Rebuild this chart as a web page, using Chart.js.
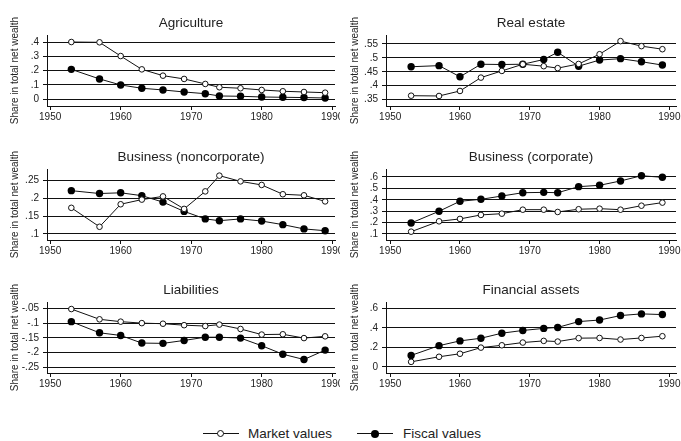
<!DOCTYPE html>
<html>
<head>
<meta charset="utf-8">
<script src="https://cdn.jsdelivr.net/npm/chart.js@4"></script>
<style>
  body { margin: 0; background: #fff; width: 681px; height: 441px; position: relative; overflow: hidden;
         font-family: 'Liberation Sans', Arial, sans-serif; color: #222; }
  .panel { position: absolute; overflow: hidden; }
  .key { position: absolute; top: 426px; height: 16px; font-size: 13.5px; line-height: 16px; }
  .key .ln { position: absolute; top: 7px; width: 36px; height: 1px; background: #111; }
  .key .dot { position: absolute; border-radius: 50%; box-sizing: border-box; }
  .key .open { width: 7px; height: 7px; top: 4px; border: 1px solid #111; background: #fff; }
  .key .full { width: 8px; height: 8px; top: 3.5px; background: #000; }
  .key .txt { position: absolute; white-space: nowrap; }
</style>
</head>
<body>
<div class="key" style="left:203px"><span class="ln"></span><span class="dot open" style="left:14px"></span><span class="txt" style="left:45px">Market values</span></div>
<div class="key" style="left:357px"><span class="ln"></span><span class="dot full" style="left:14px"></span><span class="txt" style="left:46px">Fiscal values</span></div>

<script>
// survey years
const years = [1953, 1957, 1960, 1963, 1966, 1969, 1972, 1974, 1977, 1980, 1983, 1986, 1989];
const xTicks = [1950, 1960, 1970, 1980, 1990];

// shares in total net wealth, market vs fiscal valuation
const agriMarket = [0.400, 0.398, 0.302, 0.209, 0.165, 0.142, 0.107, 0.084, 0.077, 0.065, 0.056, 0.051, 0.046];
const agriFiscal = [0.209, 0.142, 0.100, 0.077, 0.065, 0.051, 0.039, 0.023, 0.021, 0.016, 0.014, 0.012, 0.009];
const realMarket = [0.364, 0.363, 0.381, 0.429, 0.453, 0.477, 0.470, 0.463, 0.478, 0.513, 0.560, 0.542, 0.531];
const realFiscal = [0.468, 0.472, 0.432, 0.477, 0.476, 0.477, 0.494, 0.520, 0.470, 0.492, 0.497, 0.486, 0.474];
const nonCorpMarket = [0.173, 0.120, 0.183, 0.196, 0.205, 0.170, 0.219, 0.263, 0.247, 0.237, 0.211, 0.208, 0.191];
const nonCorpFiscal = [0.221, 0.213, 0.215, 0.207, 0.189, 0.163, 0.142, 0.137, 0.142, 0.136, 0.126, 0.114, 0.109];
const corpMarket = [0.120, 0.211, 0.232, 0.267, 0.278, 0.313, 0.313, 0.293, 0.317, 0.322, 0.313, 0.348, 0.375];
const corpFiscal = [0.196, 0.299, 0.387, 0.404, 0.433, 0.462, 0.465, 0.462, 0.515, 0.527, 0.565, 0.611, 0.597];
const liabMarket = [-0.052, -0.087, -0.095, -0.100, -0.102, -0.107, -0.110, -0.105, -0.120, -0.139, -0.138, -0.151, -0.145];
const liabFiscal = [-0.095, -0.133, -0.142, -0.168, -0.169, -0.159, -0.148, -0.148, -0.151, -0.177, -0.206, -0.224, -0.192];
const finMarket = [0.052, 0.104, 0.135, 0.198, 0.222, 0.250, 0.267, 0.260, 0.295, 0.297, 0.281, 0.297, 0.315];
const finFiscal = [0.118, 0.218, 0.267, 0.294, 0.346, 0.374, 0.395, 0.405, 0.465, 0.481, 0.527, 0.544, 0.537];

// y tick values per panel
const agriTicks = [0, 0.1, 0.2, 0.3, 0.4];
const realTicks = [0.35, 0.4, 0.45, 0.5, 0.55];
const nonCorpTicks = [0.1, 0.15, 0.2, 0.25];
const corpTicks = [0.1, 0.2, 0.3, 0.4, 0.5, 0.6];
const liabTicks = [-0.25, -0.2, -0.15, -0.1, -0.05];
const finTicks = [0, 0.2, 0.4, 0.6];

const ink = '#222';
const lineInk = '#111';
const fontName = "'Liberation Sans', Arial, sans-serif";

// stata-style labels: .4, -.05, 0
function fmt(v) {
  if (Math.abs(v) < 1e-9) return '0';
  return String(+v.toFixed(3)).replace('0.', '.');
}

// panel title centred over the plot area
const panelTitle = {
  id: 'panelTitle',
  afterDraw(chart, args, opts) {
    const { ctx, chartArea } = chart;
    ctx.save();
    ctx.font = '13.5px ' + fontName;
    ctx.fillStyle = ink;
    ctx.textAlign = 'center';
    ctx.textBaseline = 'middle';
    ctx.fillText(opts.text, (chartArea.left + chartArea.right) / 2, 23);
    ctx.restore();
  }
};

const panels = [
  { title: 'Agriculture', market: agriMarket, fiscal: agriFiscal, ticks: agriTicks, ymin: -0.047, ymax: 0.449, col: 0, row: 0 },
  { title: 'Real estate', market: realMarket, fiscal: realFiscal, ticks: realTicks, ymin: 0.327, ymax: 0.582, col: 1, row: 0 },
  { title: 'Business (noncorporate)', market: nonCorpMarket, fiscal: nonCorpFiscal, ticks: nonCorpTicks, ymin: 0.083, ymax: 0.2816, col: 0, row: 1 },
  { title: 'Business (corporate)', market: corpMarket, fiscal: corpFiscal, ticks: corpTicks, ymin: 0.047, ymax: 0.67, col: 1, row: 1 },
  { title: 'Liabilities', market: liabMarket, fiscal: liabFiscal, ticks: liabTicks, ymin: -0.27, ymax: -0.028, col: 0, row: 2 },
  { title: 'Financial assets', market: finMarket, fiscal: finFiscal, ticks: finTicks, ymin: -0.0625, ymax: 0.666, col: 1, row: 2 }
];

// column geometry: canvas left, width, y-axis position, x range
const cols = [
  { left: 0, width: 340, axis: 47, padRight: 2, xmin: 1949.55, xmax: 1990.4 },
  { left: 340, width: 341, axis: 46, padRight: 3, xmin: 1949.4, xmax: 1990.95 }
];

const pts = vals => years.map((x, i) => ({ x, y: vals[i] }));

panels.forEach(p => {
  const c = cols[p.col];
  const box = document.createElement('div');
  box.className = 'panel';
  box.style.left = c.left + 'px';
  box.style.top = (p.row * 133.5) + 'px';
  box.style.width = c.width + 'px';
  box.style.height = '133px';
  const cv = document.createElement('canvas');
  cv.width = c.width;
  cv.height = 133;
  box.appendChild(cv);
  document.body.appendChild(box);

  new Chart(cv, {
    type: 'line',
    data: {
      datasets: [{
        label: 'Market values',
        data: pts(p.market),
        borderColor: lineInk,
        borderWidth: 1,
        pointRadius: 2.8,
        pointBorderWidth: 1,
        pointBorderColor: lineInk,
        pointBackgroundColor: '#fff',
        tension: 0
      }, {
        label: 'Fiscal values',
        data: pts(p.fiscal),
        borderColor: lineInk,
        borderWidth: 1,
        pointRadius: 3.7,
        pointBorderWidth: 0,
        pointBackgroundColor: '#000',
        tension: 0
      }]
    },
    options: {
      responsive: false,
      animation: false,
      devicePixelRatio: 1,
      layout: { padding: { top: 35, right: c.padRight, left: 0, bottom: 0 } },
      plugins: {
        legend: { display: false },
        tooltip: { enabled: false },
        panelTitle: { text: p.title }
      },
      scales: {
        x: {
          type: 'linear',
          min: c.xmin,
          max: c.xmax,
          afterBuildTicks: s => { s.ticks = xTicks.map(v => ({ value: v })); },
          afterFit: s => { s.height = 27; s.paddingLeft = 0; s.paddingRight = 0; },
          grid: { drawOnChartArea: false, drawTicks: true, tickLength: 4, color: lineInk },
          border: { color: lineInk, width: 1 },
          ticks: { color: ink, font: { family: fontName, size: 10 }, padding: 1, maxRotation: 0, autoSkip: false,
                   callback: v => String(v) }
        },
        y: {
          min: p.ymin,
          max: p.ymax,
          afterBuildTicks: s => { s.ticks = p.ticks.map(v => ({ value: v })); },
          afterFit: s => { s.width = c.axis; s.paddingTop = 0; s.paddingBottom = 0; },
          grid: { color: lineInk, lineWidth: 1, tickLength: 4 },
          border: { color: lineInk, width: 1 },
          ticks: { color: ink, font: { family: fontName, size: 10 }, padding: 4, autoSkip: false, callback: v => fmt(v) },
          title: { display: true, text: 'Share in total net wealth', color: ink,
                   font: { family: fontName, size: 10 }, padding: { top: 9, bottom: 0 } }
        }
      }
    },
    plugins: [panelTitle]
  });
});
</script>
</body>
</html>
